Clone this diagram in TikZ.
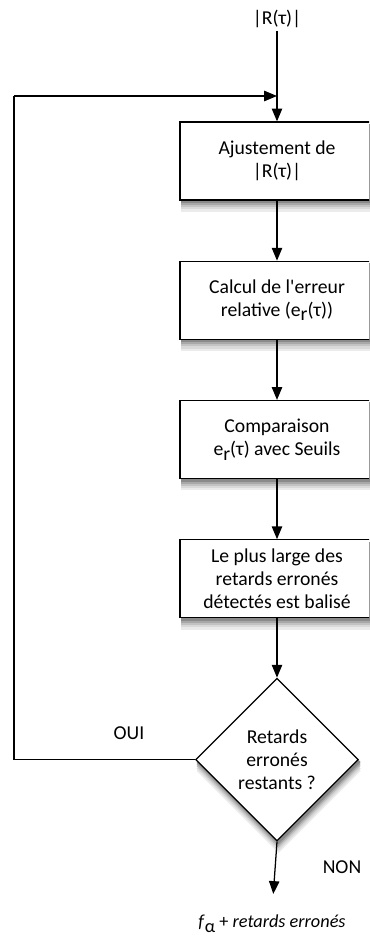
\documentclass[tikz,border=0pt]{standalone}
\usepackage{fontspec}
\setmainfont{Carlito}
\usepackage{tikz}
\usetikzlibrary{positioning, shapes.geometric, backgrounds, arrows.meta}

\tikzset{
	flowbox/.style={
			rectangle,
			draw=black,
			line width=0.9pt,
			fill=white,
			minimum width=4.85cm,
			minimum height=1.95cm,
			align=center,
			font=\fontsize{14}{16.5}\selectfont
		},
	decision/.style={
			flowbox,
			diamond,
			aspect=1,
			inner sep=0pt,
			minimum width=4.07cm,
			minimum height=4.07cm
		},
	flowarrow/.style={
			line width=0.9pt,
			-{Triangle[length=0.32cm, width=0.26cm]}
		},
	flowline/.style={
			line width=0.9pt
		},
	looselabel/.style={
			font=\fontsize{14}{16.5}\selectfont,
			inner sep=2pt
		}
}

\begin{document}
\begin{tikzpicture}
				\clip (0,0) rectangle (9.225,-23.5);

				\node[looselabel] at (6.925,-0.475) (input) {|R(τ)|};
				\node[flowbox] at (6.925,-4.025) (ajust) {Ajustement de\\|R(τ)|};
				\node[flowbox, below = 1.5cm of ajust] (calcul) {Calcul de l\textquotesingle erreur\\relative (e\raisebox{-0.45ex}{r}(τ))};
				\node[flowbox, below = 1.5cm of calcul] (compar) {Comparaison\\e\raisebox{-0.45ex}{r}(τ) avec Seuils};
				\node[flowbox, below = 1.5cm of compar] (balise) {Le plus large des\\retards erronés\\détectés est balisé};
				\node[decision, below = 1.48cm of balise] (reste) {Retards\\erronés\\restants ?};
				\node[looselabel, font=\fontsize{13}{15}\selectfont] at (6.8,-23.1) (sortie) {\textit{f}\raisebox{-0.6ex}{α} + \textit{retards erronés}};

				\node[looselabel] at (3.225,-18.33) (oui) {OUI};
				\node[looselabel] at (8.55,-21.68) (non) {NON};

				% soft shadows, lightest band first
				\begin{scope}[on background layer]
					\foreach \s/\c in {0.28/8, 0.22/15, 0.16/24, 0.11/34, 0.06/46} {
						\foreach \b in {ajust, calcul, compar, balise} {
							\fill[black!\c] ([shift={(0.04,-\s)}]\b.south west) rectangle ([shift={(0.04,-\s)}]\b.north east);
						}
						\fill[black!\c] ([shift={(0.04,-\s)}]reste.north) -- ([shift={(0.04,-\s)}]reste.east)
							-- ([shift={(0.04,-\s)}]reste.south) -- ([shift={(0.04,-\s)}]reste.west) -- cycle;
					}
				\end{scope}

				\coordinate (coin) at (0.35,-2.4);

				\draw[flowarrow] (input) -- (ajust);
				\draw[flowarrow] (ajust) -- (calcul);
				\draw[flowarrow] (calcul) -- (compar);
				\draw[flowarrow] (compar) -- (balise);
				\draw[flowarrow] (balise) -- (reste);
				\draw[flowarrow, shorten >=0.45cm] (reste.south) -- (sortie.north);

				\draw[flowline] (reste.west) -| (coin);
				\draw[flowarrow] (coin) -- (coin -| ajust.north);
			\end{tikzpicture}
\end{document}
